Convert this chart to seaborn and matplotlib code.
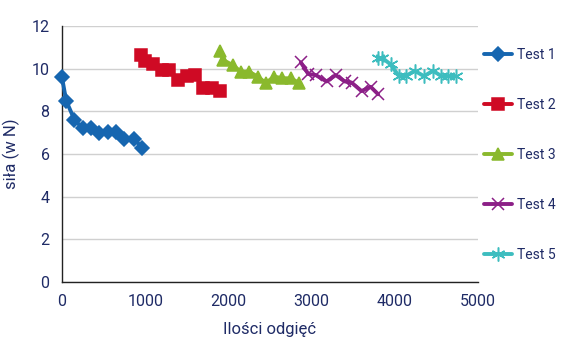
import matplotlib
matplotlib.use("Agg")
import matplotlib.pyplot as plt
import pandas as pd
import seaborn as sns

# values
test_names = ["Test 1", "Test 2", "Test 3", "Test 4", "Test 5"]

x_test1 = [0, 50, 150, 250, 350, 450, 550, 650, 750, 870, 960]
y_test1 = [9.6, 8.5, 7.6, 7.2, 7.2, 7.0, 7.05, 7.05, 6.7, 6.7, 6.3]

x_test2 = [950, 1000, 1090, 1200, 1290, 1400, 1500, 1600, 1700, 1800, 1900]
y_test2 = [10.65, 10.35, 10.2, 9.95, 9.95, 9.45, 9.65, 9.7, 9.1, 9.1, 8.95]

x_test3 = [1900, 1940, 2050, 2150, 2250, 2350, 2450, 2550, 2650, 2750, 2850]
y_test3 = [10.83, 10.4, 10.17, 9.86, 9.86, 9.63, 9.33, 9.63, 9.55, 9.55, 9.33]

x_test4 = [2870, 2960, 3050, 3180, 3290, 3400, 3480, 3600, 3710, 3800]
y_test4 = [10.3, 9.75, 9.7, 9.4, 9.7, 9.4, 9.35, 8.95, 9.15, 8.8]

x_test5 = [3800, 3850, 3950, 4050, 4130, 4240, 4350, 4460, 4560, 4640, 4730]
y_test5 = [10.5, 10.5, 10.2, 9.65, 9.65, 9.9, 9.65, 9.9, 9.65, 9.65, 9.65]

x_ticks = [0, 1000, 2000, 3000, 4000, 5000]
y_ticks = [0, 2, 4, 6, 8, 10, 12]

frames = []
for name, xs, ys in zip(test_names,
                        [x_test1, x_test2, x_test3, x_test4, x_test5],
                        [y_test1, y_test2, y_test3, y_test4, y_test5]):
    frames.append(pd.DataFrame({"x": xs, "y": ys, "test": name}))
df = pd.concat(frames, ignore_index=True)

colors = {"Test 1": "#1666b0", "Test 2": "#cf0a24", "Test 3": "#8ab92d",
          "Test 4": "#8c1f87", "Test 5": "#3dbdbf"}
markers = {"Test 1": "D", "Test 2": "s", "Test 3": "^",
           "Test 4": "x", "Test 5": (6, 2, 0)}
msizes = {"Test 1": 7, "Test 2": 8.5, "Test 3": 8.5, "Test 4": 9, "Test 5": 10}

navy = "#1f2b66"

sns.set_style("white")
plt.rcParams['font.family'] = ['Roboto', 'DejaVu Sans']

fig = plt.figure(figsize=(5.71, 3.55), dpi=100)
ax = fig.add_axes([62 / 571, 1 - 282 / 355, 416 / 571, 256 / 355])

for name in test_names:
    sub = df[df["test"] == name]
    sns.lineplot(data=sub, x="x", y="y", color=colors[name], marker=markers[name],
                 markersize=msizes[name], markeredgewidth=1.1,
                 markeredgecolor=colors[name], linewidth=2.8, sort=False,
                 label=name, clip_on=False, zorder=3, ax=ax)

ax.set_xlim(0, 5000)
ax.set_ylim(0, 12)
ax.set_xticks(x_ticks)
ax.set_yticks(y_ticks)
ax.grid(axis="y", color="#d0d0d0", linewidth=1)
ax.set_axisbelow(True)
for s in ["top", "right"]:
    ax.spines[s].set_visible(False)
for s in ["left", "bottom"]:
    ax.spines[s].set_color("#222222")
    ax.spines[s].set_linewidth(1)
ax.tick_params(axis="x", length=5, width=1, color="#222222", labelsize=11.5,
               labelcolor=navy, pad=4)
ax.tick_params(axis="y", length=0, labelsize=11.5, labelcolor=navy, pad=9)

ax.set_xlabel("Ilości odgięć", fontsize=12, color=navy, labelpad=9)
ax.set_ylabel("siła (w N)", fontsize=12, color=navy, labelpad=8)

handles, labels = ax.get_legend_handles_labels()
ax.get_legend().remove()
fig.legend(handles, labels, loc="center left",
           bbox_to_anchor=(477 / 571, 1 - 155 / 355), frameon=False,
           fontsize=10, labelcolor=navy, labelspacing=2.6,
           handlelength=2.0, handletextpad=0.35, borderpad=0)

fig.savefig("out.png", dpi=100)
